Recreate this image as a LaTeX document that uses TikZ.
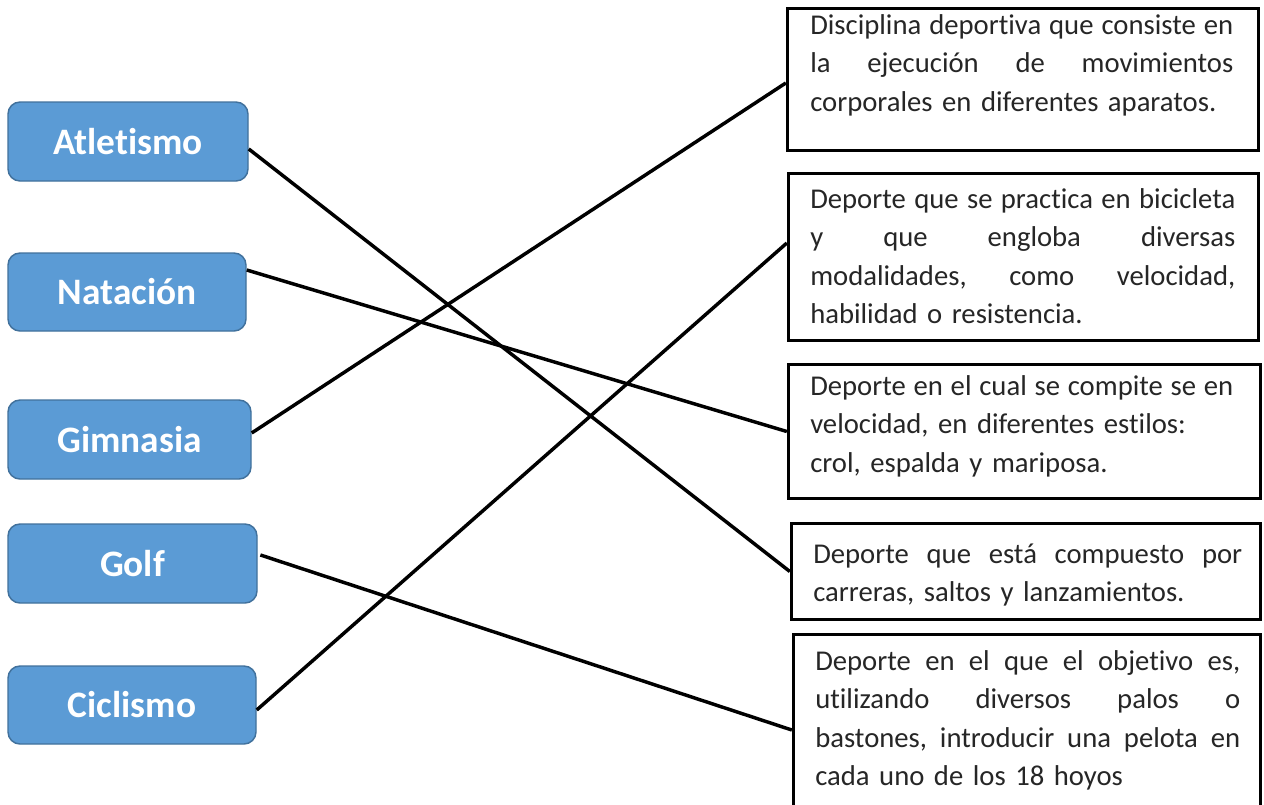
\documentclass[tikz,border=0pt]{standalone}
\usepackage{fontspec}
\setmainfont{Carlito}[Ligatures=NoCommon]
\definecolor{sportfill}{HTML}{5B9BD5}
\definecolor{sportdraw}{HTML}{41719C}
\definecolor{desctxt}{HTML}{262626}
\newcommand{\jl}[2]{\leavevmode\hbox to #1{\frenchspacing\spaceskip=\fontdimen2\font plus 1fil\relax\xspaceskip=\spaceskip #2}}
\begin{document}
\begin{tikzpicture}[x=0.75pt,y=-0.75pt,
  sport/.style={draw=sportdraw, line width=1.1pt, fill=sportfill, rounded corners=9pt,
    text=white, font=\bfseries\fontsize{28}{33}\selectfont},
  desc/.style={draw=black, line width=2.5pt},
  desctext/.style={anchor=base west, inner sep=0pt, text=desctxt, align=left,
    font=\fontsize{21.5}{28.9}\selectfont},
  link/.style={line width=2.6pt, draw=black}]
\clip (0,0) rectangle (1264,804);
\fill[white] (0,0) rectangle (1264,804);

% left: sports
\node[sport, minimum width=180pt, minimum height=59.25pt] (atl) at (128,141.5) {Atletismo};
\node[sport, minimum width=178.5pt, minimum height=58.5pt] (nat) at (127,292) {Natación};
\node[sport, minimum width=182.25pt, minimum height=59.25pt] (gim) at (129.5,439.5) {Gimnasia};
\node[sport, minimum width=186.75pt, minimum height=59.25pt] (golf) at (132.5,563.5) {Golf};
\node[sport, minimum width=186pt, minimum height=58.5pt] (cic) at (132,705) {Ciclismo};

% right: descriptions
\node[desc, minimum width=353.25pt, minimum height=106.5pt] (d1) at (1023,79.5) {};
\node[desc, minimum width=352.5pt, minimum height=125.25pt] (d2) at (1023.5,257) {};
\node[desc, minimum width=354pt, minimum height=100.5pt] (d3) at (1024.5,431.5) {};
\node[desc, minimum width=351.75pt, minimum height=72pt] (d4) at (1026,571.5) {};
\node[desc, minimum width=350.25pt, minimum height=146.25pt] (d5) at (1027,732) {};

\node[desctext, text width=317.25pt] (t1) at (810,34)
  {\jl{317.25pt}{Disciplina deportiva que consiste en}\\
   \jl{317.25pt}{la ejecución de movimientos}\\
   corporales en diferentes aparatos.};
\node[desctext, text width=318.75pt] (t2) at (810,208)
  {\jl{318.75pt}{Deporte que se practica en bicicleta}\\
   \jl{318.75pt}{y que engloba diversas}\\
   \jl{318.75pt}{modalidades, como velocidad,}\\
   habilidad o resistencia.};
\node[desctext, text width=317.25pt] (t3) at (810,395)
  {\jl{317.25pt}{Deporte en el cual se compite se en}\\
   velocidad, en diferentes estilos:\\
   crol, espalda y mariposa.};
\node[desctext, text width=321.75pt] (t4) at (813,563)
  {\jl{321.75pt}{Deporte que está compuesto por}\\
   carreras, saltos y lanzamientos.};
\node[desctext, text width=318.75pt] (t5) at (815,670)
  {\jl{318.75pt}{Deporte en el que el objetivo es,}\\
   \jl{318.75pt}{utilizando diversos palos o}\\
   \jl{318.75pt}{bastones, introducir una pelota en}\\
   cada uno de los 18 hoyos};

% connectors
\draw[link] ([yshift=-5.6pt]atl.east) -- (d4.west);
\draw[link] ([yshift=16.5pt]nat.east) -- (d3.west);
\draw[link] ([yshift=4.9pt]gim.east) -- ([yshift=-2.6pt]d1.west);
\draw[link] ([xshift=2pt,yshift=6.4pt]golf.east) -- ([yshift=1.5pt]d5.west);
\draw[link] ([yshift=-3.75pt]cic.east) -- ([yshift=10.5pt]d2.west);
\end{tikzpicture}
\end{document}
